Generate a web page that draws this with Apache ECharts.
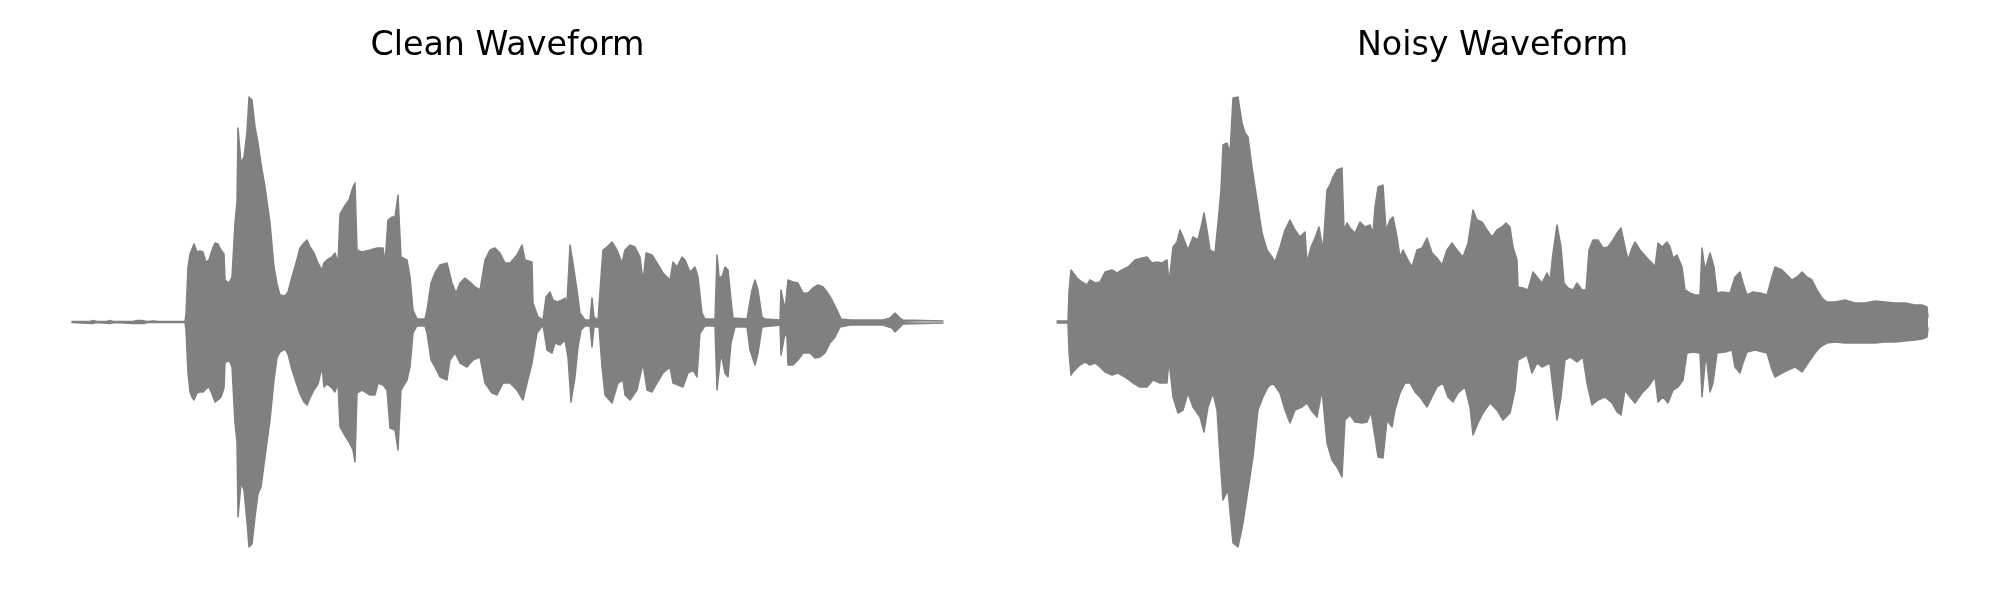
<!DOCTYPE html>
<html>
<head>
<meta charset="utf-8">
<script src="https://cdn.jsdelivr.net/npm/echarts@6/dist/echarts.min.js"></script>
<style>html,body{margin:0;padding:0;background:#fff}#c{width:2000px;height:600px}</style>
</head>
<body>
<div id="c"></div>
<script>
// Panel titles
const panelTitles = ['Clean Waveform', 'Noisy Waveform'];
// Waveform envelopes: [frame, amplitude x1000]
const cleanUpper = [[0,1],[18,1],[21,3],[25,1],[35,1],[38,3],[41,1],[61,1],[65,3],[70,3],[75,1],[82,2],[86,1],[113,1],[114,16],[116,110],[118,136],[120,140],[122,156],[125,140],[128,142],[131,140],[134,120],[137,124],[140,144],[143,158],[146,156],[149,144],[152,136],[153,84],[157,78],[160,90],[163,198],[165,240],[166,388],[168,388],[169,318],[172,330],[175,380],[177,450],[180,444],[183,390],[186,358],[189,316],[193,270],[198,198],[202,110],[205,76],[208,54],[213,52],[216,60],[220,90],[224,118],[228,148],[232,158],[235,164],[238,150],[242,138],[246,118],[250,104],[252,118],[255,124],[260,130],[263,138],[266,118],[268,216],[272,230],[277,244],[281,270],[283,278],[285,144],[290,140],[298,144],[305,148],[311,148],[313,118],[316,204],[320,210],[323,210],[326,254],[329,130],[335,124],[338,90],[341,24],[345,6],[353,6],[355,24],[359,78],[363,98],[368,114],[375,118],[380,78],[384,58],[388,78],[393,88],[398,80],[403,70],[408,64],[413,124],[418,144],[423,148],[428,138],[433,118],[438,118],[445,134],[450,154],[453,124],[460,120],[461,38],[466,10],[471,4],[474,50],[478,60],[481,44],[485,40],[490,44],[493,48],[495,38],[498,154],[501,118],[505,64],[508,18],[513,4],[518,4],[520,48],[522,10],[526,4],[530,118],[531,144],[535,150],[540,160],[545,144],[550,118],[553,144],[558,154],[563,150],[568,130],[571,80],[574,138],[580,134],[585,118],[591,98],[598,84],[601,120],[605,110],[610,130],[613,124],[618,100],[623,110],[626,90],[630,18],[633,6],[643,6],[645,134],[646,134],[647,90],[650,90],[653,110],[656,104],[659,44],[661,8],[675,6],[677,30],[680,64],[683,84],[686,64],[690,10],[693,6],[708,4],[709,64],[711,64],[713,24],[715,24],[716,84],[721,80],[726,78],[731,58],[736,58],[741,68],[746,74],[751,70],[755,60],[760,44],[765,24],[769,6],[778,4],[811,4],[818,8],[823,18],[828,8],[831,4],[871,2]];
const cleanLower = [[0,1],[20,3],[25,1],[38,3],[42,1],[62,3],[72,3],[76,1],[113,1],[114,16],[116,102],[118,140],[120,150],[122,156],[125,142],[128,140],[131,140],[134,134],[137,130],[140,144],[143,160],[146,156],[149,150],[152,132],[153,82],[157,76],[160,90],[163,202],[165,240],[166,390],[168,390],[169,322],[172,336],[175,400],[177,450],[180,444],[183,390],[186,344],[189,330],[193,270],[198,196],[202,116],[205,72],[208,60],[213,54],[216,64],[220,96],[224,120],[228,144],[232,160],[235,166],[238,152],[242,136],[246,124],[250,90],[252,130],[255,124],[260,132],[263,140],[266,122],[268,210],[272,224],[277,240],[281,256],[283,280],[285,142],[290,136],[298,146],[303,146],[306,122],[311,126],[315,136],[318,212],[323,216],[326,256],[329,136],[335,116],[338,90],[341,22],[345,8],[353,8],[355,22],[359,76],[363,90],[368,110],[375,116],[378,76],[383,62],[388,82],[395,90],[401,76],[408,70],[413,122],[420,142],[425,146],[431,122],[438,122],[445,136],[451,156],[455,122],[460,82],[465,22],[471,6],[475,56],[480,62],[483,42],[488,46],[493,36],[496,70],[499,160],[503,110],[506,50],[509,16],[513,8],[518,8],[520,50],[522,10],[527,10],[530,90],[533,146],[540,162],[546,122],[551,116],[553,146],[558,156],[565,136],[571,82],[575,136],[580,140],[585,122],[591,102],[598,90],[601,122],[606,126],[611,130],[616,102],[621,96],[625,110],[628,22],[633,8],[643,8],[645,136],[646,136],[649,62],[653,102],[656,110],[659,42],[663,10],[675,10],[678,56],[683,86],[686,62],[690,10],[708,6],[709,66],[711,66],[713,22],[715,30],[716,86],[721,86],[726,76],[731,62],[738,62],[743,72],[748,70],[753,62],[758,42],[763,30],[768,10],[778,6],[811,6],[820,12],[823,20],[828,10],[831,4],[871,2]];
const noisyUpper = [[0,2],[11,2],[12,60],[14,104],[16,100],[20,88],[25,80],[30,74],[33,84],[38,78],[43,80],[48,100],[55,104],[60,98],[65,104],[71,110],[78,124],[85,128],[90,130],[95,118],[100,120],[105,118],[110,124],[111,124],[112,78],[116,150],[120,160],[123,184],[126,170],[131,144],[136,170],[141,164],[145,198],[147,218],[150,184],[153,144],[158,138],[161,198],[164,264],[166,354],[170,358],[173,338],[176,448],[181,450],[185,398],[188,378],[191,370],[195,310],[200,244],[205,178],[210,144],[215,130],[218,120],[223,150],[228,184],[233,204],[238,184],[243,170],[248,180],[250,118],[254,150],[258,168],[262,190],[266,144],[270,264],[273,274],[276,290],[280,304],[285,308],[287,184],[290,198],[293,188],[298,178],[303,200],[308,190],[313,194],[316,178],[318,230],[321,270],[326,274],[329,184],[333,204],[336,210],[340,170],[343,130],[346,144],[351,124],[355,110],[360,144],[365,148],[370,168],[375,138],[380,128],[385,114],[390,144],[395,158],[400,144],[406,130],[411,158],[416,224],[420,204],[425,200],[430,184],[435,170],[440,184],[445,190],[449,198],[453,190],[456,150],[460,124],[461,70],[466,68],[471,64],[476,100],[480,90],[485,78],[490,98],[493,84],[496,138],[500,194],[504,150],[507,78],[511,68],[516,64],[520,78],[525,64],[529,64],[532,144],[536,164],[541,164],[546,148],[551,150],[556,164],[560,178],[564,188],[568,150],[571,124],[575,148],[578,160],[583,144],[590,128],[595,118],[598,110],[601,158],[605,150],[610,160],[613,150],[616,128],[620,134],[625,110],[628,64],[633,58],[638,54],[643,54],[645,148],[647,148],[648,104],[653,138],[657,110],[660,58],[665,60],[673,58],[678,90],[683,100],[686,78],[690,54],[696,60],[703,58],[710,54],[715,90],[718,110],[725,104],[730,94],[735,84],[740,90],[745,100],[750,90],[755,84],[760,64],[765,48],[770,40],[778,40],[788,44],[798,38],[808,38],[818,42],[828,40],[838,38],[848,38],[858,34],[865,34],[870,30],[871,10]];
const noisyLower = [[0,2],[11,2],[12,60],[14,106],[16,100],[23,86],[28,80],[33,86],[38,82],[43,90],[48,100],[55,106],[61,102],[68,110],[76,122],[83,130],[90,130],[96,116],[103,122],[110,122],[111,122],[112,76],[116,150],[121,182],[126,176],[131,142],[136,170],[143,190],[147,220],[151,170],[156,142],[160,176],[163,270],[166,356],[171,336],[176,442],[181,450],[186,402],[191,336],[196,270],[201,176],[206,150],[211,130],[216,122],[223,142],[228,176],[233,202],[238,176],[245,170],[250,162],[254,176],[260,190],[265,136],[270,242],[275,276],[280,290],[285,310],[288,196],[293,186],[298,200],[305,202],[310,200],[314,180],[318,230],[321,270],[326,272],[330,196],[335,210],[338,176],[343,142],[348,122],[353,122],[358,140],[363,150],[370,170],[375,150],[380,130],[386,122],[391,150],[396,160],[401,142],[408,130],[413,170],[416,226],[421,202],[426,182],[433,162],[440,176],[446,196],[453,182],[458,136],[461,76],[470,66],[475,102],[480,82],[485,90],[493,82],[497,150],[500,196],[504,150],[508,76],[513,70],[520,80],[526,70],[530,122],[535,166],[541,156],[548,150],[555,162],[560,180],[564,186],[568,136],[573,150],[578,162],[585,142],[591,130],[598,110],[601,160],[606,150],[611,162],[616,136],[621,130],[626,116],[630,62],[636,60],[643,62],[645,150],[647,150],[649,62],[653,140],[656,122],[660,62],[668,60],[675,56],[678,90],[683,102],[686,82],[690,60],[698,56],[710,62],[715,96],[718,110],[725,102],[731,96],[738,90],[745,100],[751,82],[758,62],[763,50],[770,42],[778,40],[788,42],[798,42],[808,42],[818,42],[828,40],[838,40],[848,38],[858,36],[865,34],[870,30],[871,12]];
const frameCount = 871;
const ampRange = 500;

const GRAY = '#808080';
const chart = echarts.init(document.getElementById('c'), null, {renderer: 'canvas'});

function env(data, sign, idx) {
  return {
    type: 'line', xAxisIndex: idx, yAxisIndex: idx,
    data: data.map(d => [d[0], sign * d[1]]),
    showSymbol: false, symbol: 'none', silent: true, animation: false, clip: false,
    lineStyle: {color: GRAY, width: 1.5, join: 'round', cap: 'round'},
    areaStyle: {color: GRAY, opacity: 1}
  };
}
const lefts = [72, 1057];
const option = {
  backgroundColor: '#fff',
  animation: false,
  title: panelTitles.map((t, i) => ({
    text: t, left: lefts[i] + frameCount / 2, top: 30, textAlign: 'center', padding: 0,
    textStyle: {fontFamily: 'DejaVu Sans', fontSize: 33.3, fontWeight: 'normal', color: '#000'}
  })),
  grid: lefts.map(l => ({left: l, width: frameCount, top: 72, height: 500})),
  xAxis: [0, 1].map(i => ({type: 'value', gridIndex: i, min: 0, max: frameCount, show: false})),
  yAxis: [0, 1].map(i => ({type: 'value', gridIndex: i, min: -ampRange, max: ampRange, show: false})),
  series: [env(cleanUpper, 1, 0), env(cleanLower, -1, 0), env(noisyUpper, 1, 1), env(noisyLower, -1, 1)]
};
chart.setOption(option);
</script>
</body>
</html>
